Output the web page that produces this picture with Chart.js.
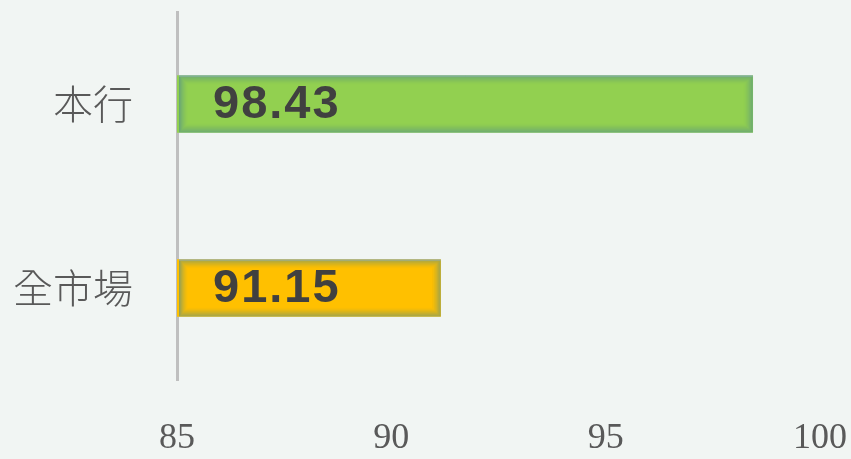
<!DOCTYPE html>
<html><head><meta charset="utf-8">
<script src="https://cdn.jsdelivr.net/npm/chart.js@4/dist/chart.umd.min.js"></script>
<style>html,body{margin:0;padding:0;background:#f1f5f3;}#wrap{width:851px;height:459px;}</style>
</head><body><div id="wrap"><canvas id="c" width="851" height="459"></canvas></div>
<script>
const categories = ['本行', '全市場'];
const values = [98.43, 91.15];
const barColors = ['#92d050', '#ffc000'];
const xTicks = [85, 90, 95, 100];

const glowPlugin = {
  id: 'innerGlow',
  afterDatasetsDraw(chart) {
    const ctx = chart.ctx;
    const meta = chart.getDatasetMeta(0);
    ctx.save();
    meta.data.forEach((bar) => {
      const left = Math.max(chart.chartArea.left, Math.min(bar.base, bar.x)) + 2;
      const right = Math.max(bar.base, bar.x);
      const top = bar.y - bar.height / 2, h = bar.height;
      const n = 9;
      for (let k = 0; k < n; k++) {
        const a = 0.6 * Math.pow(1 - k / n, 1.6);
        ctx.strokeStyle = 'rgba(80,140,140,' + a.toFixed(3) + ')';
        ctx.lineWidth = 1;
        ctx.strokeRect(left + k + 0.5, top + k + 0.5, right - left - 2 * k - 1, h - 2 * k - 1);
      }
      ctx.strokeStyle = 'rgba(150,180,200,0.8)';
      ctx.beginPath(); ctx.moveTo(left, top + 0.5); ctx.lineTo(right, top + 0.5); ctx.stroke();
    });
    ctx.restore();
  }
};

const labelPlugin = {
  id: 'valueLabels',
  afterDatasetsDraw(chart) {
    const ctx = chart.ctx;
    const meta = chart.getDatasetMeta(0);
    ctx.save();
    ctx.font = 'bold 47px "Liberation Sans", Arial, sans-serif';
    ctx.fillStyle = '#404040';
    ctx.textBaseline = 'middle';
    ctx.textAlign = 'left';
    try { ctx.letterSpacing = '2px'; } catch (e) {}
    meta.data.forEach((bar, i) => {
      ctx.fillText(values[i].toFixed(2), chart.chartArea.left + 36, bar.y + 1);
    });
    ctx.restore();
  }
};

new Chart(document.getElementById('c'), {
  type: 'bar',
  data: {
    labels: categories,
    datasets: [{
      data: values,
      backgroundColor: barColors,
      borderWidth: 0,
      barThickness: 57
    }]
  },
  options: {
    indexAxis: 'y',
    responsive: false,
    animation: false,
    layout: { padding: { top: 12, right: 31, left: 0, bottom: 0 } },
    plugins: { legend: { display: false }, tooltip: { enabled: false } },
    scales: {
      x: {
        min: 85, max: 100,
        afterBuildTicks(scale) { scale.ticks = xTicks.map(v => ({ value: v })); },
        grid: { display: false, drawTicks: false },
        border: { display: false },
        ticks: {
          padding: 37,
          maxRotation: 0, minRotation: 0,
          color: '#595959',
          font: { family: '"Liberation Serif", "DejaVu Serif", serif', size: 36 }
        },
        afterFit(scale) { scale.height = 79; scale.paddingLeft = 0; scale.paddingRight = 0; }
      },
      y: {
        grid: { display: false, drawTicks: false },
        border: { display: true, color: '#bfbfbf', width: 3 },
        ticks: {
          padding: 44,
          color: '#595959',
          font: { family: '"Noto Sans CJK TC", "Noto Sans CJK SC", sans-serif', size: 40, weight: 300 }
        },
        afterFit(scale) { scale.width = 177; scale.paddingTop = 0; scale.paddingBottom = 0; }
      }
    }
  },
  plugins: [glowPlugin, labelPlugin, {
    id: 'bg',
    beforeDraw(chart) {
      const c = chart.ctx; c.save(); c.fillStyle = '#f1f5f3';
      c.fillRect(0, 0, chart.width, chart.height); c.restore();
    }
  }]
});
</script>
</body></html>
